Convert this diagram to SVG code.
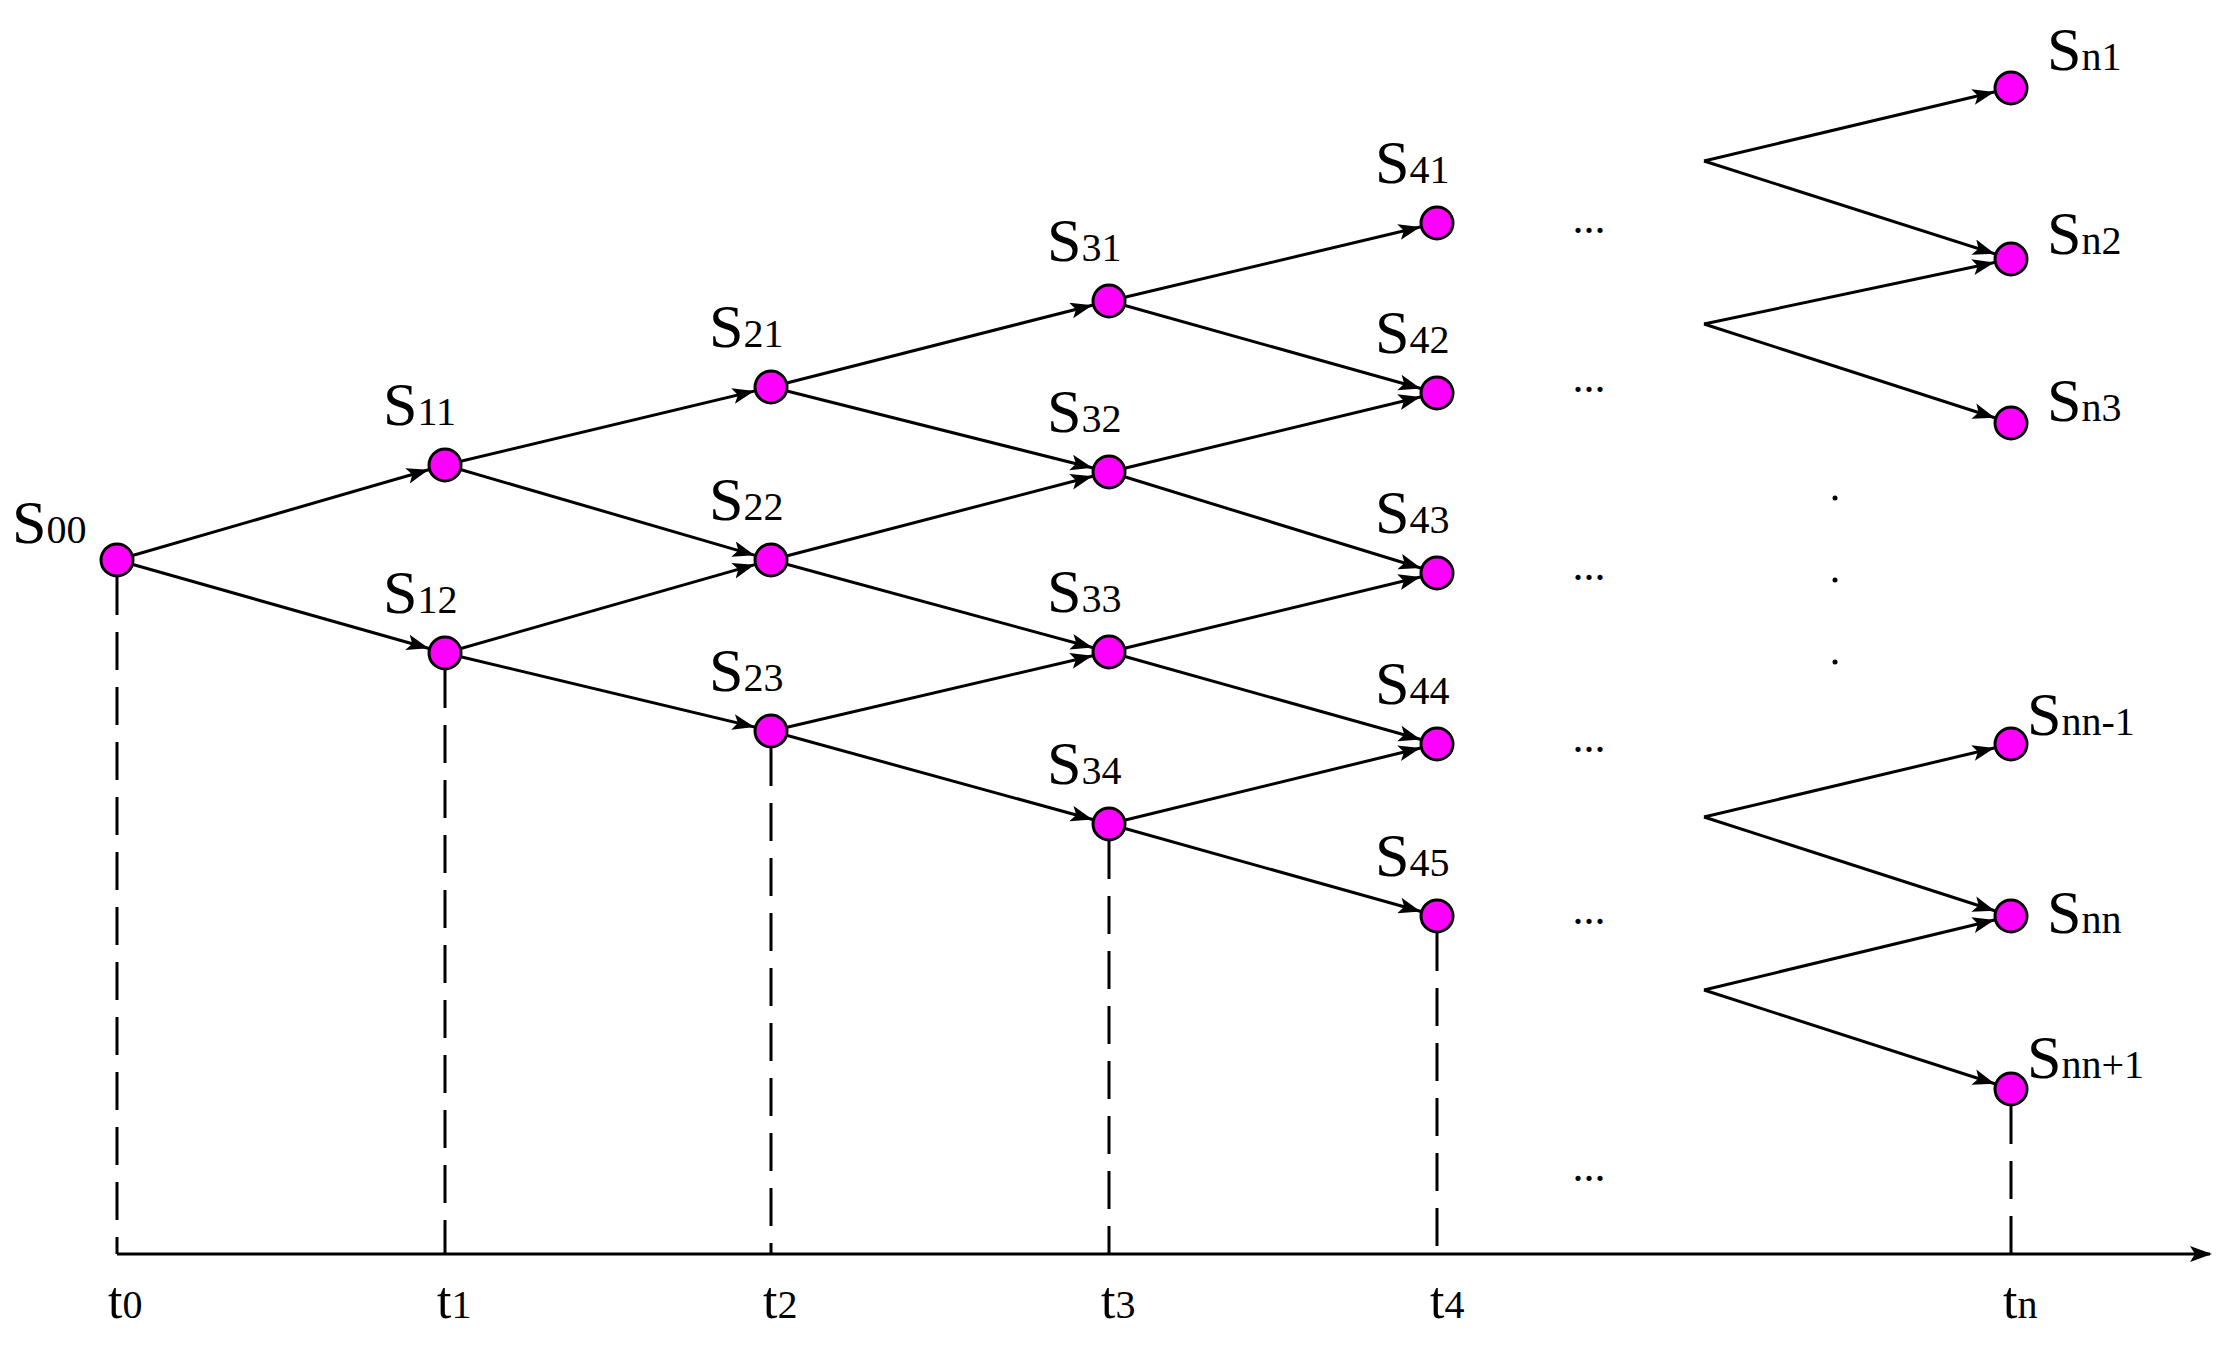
<svg xmlns="http://www.w3.org/2000/svg" width="2220" height="1350" viewBox="0 0 2220 1350">
<style>
.e{stroke:#000;stroke-width:3;fill:none;marker-end:url(#a)}
.d{stroke:#000;stroke-width:3;stroke-dasharray:38 17;fill:none}
.n{fill:#f0f;stroke:#000;stroke-width:3}
text{font-family:"Liberation Serif","Times New Roman",serif;fill:#000}
.s{font-size:62px}
.b{font-size:40px}
.t{font-size:52px}
.dot{font-size:44px}
</style>
<defs>
<marker id="a" markerUnits="userSpaceOnUse" markerWidth="60" markerHeight="20" refX="39" refY="8" orient="auto">
<path d="M0,0 L22,8 L0,16 L5,8 z" fill="#000"/>
</marker>
<marker id="ax" markerUnits="userSpaceOnUse" markerWidth="30" markerHeight="20" refX="20" refY="8" orient="auto">
<path d="M0,0 L22,8 L0,16 L5,8 z" fill="#000"/>
</marker>
</defs>
<g id="axis">
<line x1="117" y1="1254" x2="2210" y2="1254" stroke="#000" stroke-width="3" marker-end="url(#ax)"/>
<path class="d" d="M117,577V1254 M445,670V1254 M771,748V1254 M1109,841V1254 M1437,933V1254 M2011,1106V1254"/>
</g>
<g id="connectors">
<line class="e" x1="117" y1="560" x2="445" y2="465"/><line class="e" x1="117" y1="560" x2="445" y2="653"/>
<line class="e" x1="445" y1="465" x2="771" y2="387"/><line class="e" x1="445" y1="465" x2="771" y2="560"/>
<line class="e" x1="445" y1="653" x2="771" y2="560"/><line class="e" x1="445" y1="653" x2="771" y2="731"/>
<line class="e" x1="771" y1="387" x2="1109" y2="301"/><line class="e" x1="771" y1="387" x2="1109" y2="472"/>
<line class="e" x1="771" y1="560" x2="1109" y2="472"/><line class="e" x1="771" y1="560" x2="1109" y2="652"/>
<line class="e" x1="771" y1="731" x2="1109" y2="652"/><line class="e" x1="771" y1="731" x2="1109" y2="824"/>
<line class="e" x1="1109" y1="301" x2="1437" y2="223"/><line class="e" x1="1109" y1="301" x2="1437" y2="393"/>
<line class="e" x1="1109" y1="472" x2="1437" y2="393"/><line class="e" x1="1109" y1="472" x2="1437" y2="573"/>
<line class="e" x1="1109" y1="652" x2="1437" y2="573"/><line class="e" x1="1109" y1="652" x2="1437" y2="744"/>
<line class="e" x1="1109" y1="824" x2="1437" y2="744"/><line class="e" x1="1109" y1="824" x2="1437" y2="916"/>
<line class="e" x1="1704" y1="161" x2="2011" y2="88"/><line class="e" x1="1704" y1="161" x2="2011" y2="259"/>
<line class="e" x1="1704" y1="324" x2="2011" y2="259"/><line class="e" x1="1704" y1="324" x2="2011" y2="423"/>
<line class="e" x1="1704" y1="817" x2="2011" y2="744"/><line class="e" x1="1704" y1="817" x2="2011" y2="916"/>
<line class="e" x1="1704" y1="990" x2="2011" y2="916"/><line class="e" x1="1704" y1="990" x2="2011" y2="1089"/>
</g>
<g id="S00"><circle class="n" cx="117" cy="560" r="16"/><text x="12" y="543"><tspan class="s">S</tspan><tspan class="b">00</tspan></text></g>
<g id="S11"><circle class="n" cx="445" cy="465" r="16"/><text x="383" y="425"><tspan class="s">S</tspan><tspan class="b">11</tspan></text></g>
<g id="S12"><circle class="n" cx="445" cy="653" r="16"/><text x="383" y="613"><tspan class="s">S</tspan><tspan class="b">12</tspan></text></g>
<g id="S21"><circle class="n" cx="771" cy="387" r="16"/><text x="709" y="347"><tspan class="s">S</tspan><tspan class="b">21</tspan></text></g>
<g id="S22"><circle class="n" cx="771" cy="560" r="16"/><text x="709" y="520"><tspan class="s">S</tspan><tspan class="b">22</tspan></text></g>
<g id="S23"><circle class="n" cx="771" cy="731" r="16"/><text x="709" y="691"><tspan class="s">S</tspan><tspan class="b">23</tspan></text></g>
<g id="S31"><circle class="n" cx="1109" cy="301" r="16"/><text x="1047" y="261"><tspan class="s">S</tspan><tspan class="b">31</tspan></text></g>
<g id="S32"><circle class="n" cx="1109" cy="472" r="16"/><text x="1047" y="432"><tspan class="s">S</tspan><tspan class="b">32</tspan></text></g>
<g id="S33"><circle class="n" cx="1109" cy="652" r="16"/><text x="1047" y="612"><tspan class="s">S</tspan><tspan class="b">33</tspan></text></g>
<g id="S34"><circle class="n" cx="1109" cy="824" r="16"/><text x="1047" y="784"><tspan class="s">S</tspan><tspan class="b">34</tspan></text></g>
<g id="S41"><circle class="n" cx="1437" cy="223" r="16"/><text x="1375" y="183"><tspan class="s">S</tspan><tspan class="b">41</tspan></text></g>
<g id="S42"><circle class="n" cx="1437" cy="393" r="16"/><text x="1375" y="353"><tspan class="s">S</tspan><tspan class="b">42</tspan></text></g>
<g id="S43"><circle class="n" cx="1437" cy="573" r="16"/><text x="1375" y="533"><tspan class="s">S</tspan><tspan class="b">43</tspan></text></g>
<g id="S44"><circle class="n" cx="1437" cy="744" r="16"/><text x="1375" y="704"><tspan class="s">S</tspan><tspan class="b">44</tspan></text></g>
<g id="S45"><circle class="n" cx="1437" cy="916" r="16"/><text x="1375" y="876"><tspan class="s">S</tspan><tspan class="b">45</tspan></text></g>
<g id="Sn1"><circle class="n" cx="2011" cy="88" r="16"/><text x="2047" y="70"><tspan class="s">S</tspan><tspan class="b">n1</tspan></text></g>
<g id="Sn2"><circle class="n" cx="2011" cy="259" r="16"/><text x="2047" y="254"><tspan class="s">S</tspan><tspan class="b">n2</tspan></text></g>
<g id="Sn3"><circle class="n" cx="2011" cy="423" r="16"/><text x="2047" y="421"><tspan class="s">S</tspan><tspan class="b">n3</tspan></text></g>
<g id="Snn-1"><circle class="n" cx="2011" cy="744" r="16"/><text x="2027" y="735"><tspan class="s">S</tspan><tspan class="b">nn-1</tspan></text></g>
<g id="Snn"><circle class="n" cx="2011" cy="916" r="16"/><text x="2047" y="933"><tspan class="s">S</tspan><tspan class="b">nn</tspan></text></g>
<g id="Snn1"><circle class="n" cx="2011" cy="1089" r="16"/><text x="2027" y="1078"><tspan class="s">S</tspan><tspan class="b">nn+1</tspan></text></g>
<g id="dots">
<text class="dot" x="1589" y="233" text-anchor="middle">...</text>
<text class="dot" x="1589" y="392" text-anchor="middle">...</text>
<text class="dot" x="1589" y="580" text-anchor="middle">...</text>
<text class="dot" x="1589" y="752" text-anchor="middle">...</text>
<text class="dot" x="1589" y="924" text-anchor="middle">...</text>
<text class="dot" x="1589" y="1181" text-anchor="middle">...</text>
<circle cx="1835" cy="498" r="2.5"/><circle cx="1835" cy="580" r="2.5"/><circle cx="1835" cy="662" r="2.5"/>
</g>
<g id="ticks">
<text x="108" y="1318"><tspan class="t">t</tspan><tspan class="b">0</tspan></text>
<text x="437" y="1318"><tspan class="t">t</tspan><tspan class="b">1</tspan></text>
<text x="763" y="1318"><tspan class="t">t</tspan><tspan class="b">2</tspan></text>
<text x="1101" y="1318"><tspan class="t">t</tspan><tspan class="b">3</tspan></text>
<text x="1430" y="1318"><tspan class="t">t</tspan><tspan class="b">4</tspan></text>
<text x="2003" y="1318"><tspan class="t">t</tspan><tspan class="b">n</tspan></text>
</g>
</svg>
